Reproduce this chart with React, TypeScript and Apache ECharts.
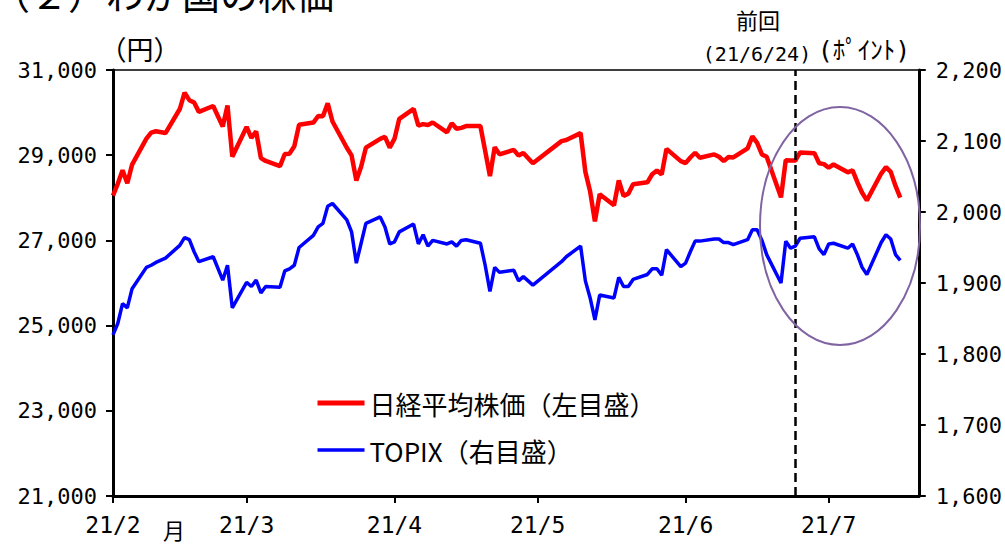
import React, { useEffect, useRef } from "react";
import * as echarts from "echarts";

const dates = [
  "2021-02-01","2021-02-02","2021-02-03","2021-02-04","2021-02-05","2021-02-08","2021-02-09","2021-02-10","2021-02-12",
  "2021-02-15","2021-02-16","2021-02-17","2021-02-18","2021-02-19","2021-02-22","2021-02-24","2021-02-25","2021-02-26",
  "2021-03-01","2021-03-02","2021-03-03","2021-03-04","2021-03-05","2021-03-08","2021-03-09","2021-03-10","2021-03-11","2021-03-12",
  "2021-03-15","2021-03-16","2021-03-17","2021-03-18","2021-03-19","2021-03-22","2021-03-23","2021-03-24","2021-03-25","2021-03-26",
  "2021-03-29","2021-03-30","2021-03-31","2021-04-01","2021-04-02","2021-04-05","2021-04-06","2021-04-07","2021-04-08","2021-04-09",
  "2021-04-12","2021-04-13","2021-04-14","2021-04-15","2021-04-16","2021-04-19","2021-04-20","2021-04-21","2021-04-22","2021-04-23",
  "2021-04-26","2021-04-27","2021-04-28","2021-04-30","2021-05-06","2021-05-07","2021-05-10","2021-05-11","2021-05-12","2021-05-13",
  "2021-05-14","2021-05-17","2021-05-18","2021-05-19","2021-05-20","2021-05-21","2021-05-24","2021-05-25","2021-05-26","2021-05-27",
  "2021-05-28","2021-05-31","2021-06-01","2021-06-02","2021-06-03","2021-06-04","2021-06-07","2021-06-08","2021-06-09","2021-06-10",
  "2021-06-11","2021-06-14","2021-06-15","2021-06-16","2021-06-17","2021-06-18","2021-06-21","2021-06-22","2021-06-23","2021-06-24",
  "2021-06-25","2021-06-28","2021-06-29","2021-06-30","2021-07-01","2021-07-02","2021-07-05","2021-07-06","2021-07-07","2021-07-08",
  "2021-07-09","2021-07-12","2021-07-13","2021-07-14","2021-07-15","2021-07-16"
];

const nikkei = [
  28050,28330,28646,28341,28779,29388,29530,29562,29520,
  30084,30467,30292,30236,30017,30156,29671,30168,28966,
  29663,29408,29559,28930,28864,28744,29028,29036,29212,29717,
  29766,29921,29914,30216,29792,29174,28995,28405,28729,29176,
  29384,29432,29178,29388,29854,30089,29696,29730,29708,29768,
  29538,29751,29620,29642,29683,29685,29100,28508,29188,29020,
  29126,28991,29053,28812,29331,29357,29518,28608,28147,27448,
  28084,27824,28406,28044,28098,28317,28364,28553,28642,28549,
  29149,28860,28814,28946,29058,28941,29019,28963,28860,28958,
  28948,29161,29441,29291,29018,28964,28010,28884,28874,28875,
  29066,29048,28812,28791,28707,28783,28598,28643,28366,28118,
  27940,28569,28718,28608,28279,28003
];

const topix = [
  1827,1843,1871,1865,1892,1922,1925,1929,1935,
  1953,1964,1961,1944,1930,1937,1904,1925,1865,
  1901,1895,1904,1886,1895,1894,1917,1920,1925,1950,
  1967,1979,1984,2008,2012,1989,1972,1928,1956,1984,
  1993,1979,1955,1958,1972,1983,1955,1968,1952,1960,
  1955,1958,1952,1960,1961,1956,1925,1888,1922,1915,
  1918,1903,1909,1897,1930,1937,1952,1903,1879,1848,
  1883,1879,1908,1895,1895,1905,1912,1920,1920,1911,
  1947,1923,1928,1944,1959,1959,1962,1962,1957,1957,
  1954,1961,1975,1975,1960,1940,1900,1959,1949,1952,
  1963,1965,1948,1940,1955,1956,1949,1955,1940,1922,
  1912,1957,1968,1962,1940,1932
];

const monthStarts = ["2021-02-01","2021-03-01","2021-04-01","2021-05-01","2021-06-01","2021-07-01"];
const monthLabels = ["21/2","21/3","21/4","21/5","21/6","21/7"];
const axisStart = "2021-02-01T00:00:00Z";
const axisEnd = "2021-07-19T21:00:00Z";
const prevDate = "2021-06-24";
const seriesNames = ["日経平均株価（左目盛）", "TOPIX（右目盛）"];

const ts = (s: string) => Date.parse(s.length === 10 ? s + "T00:00:00Z" : s);

const NUM_FONT = "'DejaVu Sans Mono', 'Noto Sans CJK JP', monospace";
const JP_FONT = "'Noto Sans CJK JP', sans-serif";

function fmt(v: number) {
  return String(v).replace(/\B(?=(\d{3})+(?!\d))/g, ",");
}

export default function App() {
  const ref = useRef<HTMLDivElement>(null);
  useEffect(() => {
    if (!ref.current) return;
    const chart = echarts.init(ref.current, undefined, { renderer: "svg" });
    const monthTs = monthStarts.map(ts);
    const option: any = {
      animation: false,
      backgroundColor: "#fff",
      grid: {
        left: 113, right: 86, top: 70, bottom: 49,
        show: true, borderColor: "#000", borderWidth: 1.5, backgroundColor: "transparent"
      },
      legend: {
        orient: "vertical",
        left: 315, top: 390, padding: 0,
        itemWidth: 47, itemHeight: 24, itemGap: 21,
        itemStyle: { opacity: 0 },
        textStyle: { fontSize: 26, fontFamily: JP_FONT, color: "#000" },
        data: [
          { name: seriesNames[0], lineStyle: { width: 5, color: "#ff0000" } },
          { name: seriesNames[1], lineStyle: { width: 3.5, color: "#0000ff" } }
        ]
      },
      xAxis: {
        type: "value",
        min: ts(axisStart),
        max: ts(axisEnd),
        splitLine: { show: false },
        axisLine: { lineStyle: { color: "#000", width: 3 } },
        axisTick: { show: true, inside: false, length: 7, lineStyle: { color: "#000", width: 2 }, customValues: monthTs },
        axisLabel: {
          customValues: monthTs,
          margin: 17,
          fontSize: 23,
          fontFamily: NUM_FONT,
          color: "#000",
          formatter: (v: number) => {
            const i = monthTs.indexOf(v);
            return i >= 0 ? monthLabels[i] : "";
          }
        }
      },
      yAxis: [
        {
          type: "value", min: 21000, max: 31000, interval: 2000, position: "left",
          splitLine: { show: false },
          axisLine: { show: true, lineStyle: { color: "#000", width: 3 } },
          axisTick: { show: true, length: 7, lineStyle: { color: "#000", width: 2 } },
          axisLabel: { margin: 16, fontSize: 22, fontFamily: NUM_FONT, color: "#000", formatter: (v: number) => fmt(v) }
        },
        {
          type: "value", min: 1600, max: 2200, interval: 100, position: "right",
          splitLine: { show: false },
          axisLine: { show: true, lineStyle: { color: "#000", width: 3 } },
          axisTick: { show: true, length: 7, lineStyle: { color: "#000", width: 2 } },
          axisLabel: { margin: 17, fontSize: 22, fontFamily: NUM_FONT, color: "#000", formatter: (v: number) => fmt(v) }
        }
      ],
      series: [
        {
          name: seriesNames[0],
          type: "line",
          yAxisIndex: 0,
          symbol: "none",
          data: dates.map((d, i) => [ts(d), nikkei[i]]),
          lineStyle: { color: "#ff0000", width: 4.5 },
          itemStyle: { color: "#ff0000" },
          markLine: {
            silent: true,
            symbol: ["none", "none"],
            label: { show: false },
            lineStyle: { color: "#000", type: [9, 5], width: 2.5 },
            data: [{ xAxis: ts(prevDate) }]
          }
        },
        {
          name: seriesNames[1],
          type: "line",
          yAxisIndex: 1,
          symbol: "none",
          data: dates.map((d, i) => [ts(d), topix[i]]),
          lineStyle: { color: "#0000ff", width: 3.5 },
          itemStyle: { color: "#0000ff" }
        }
      ],
      graphic: [
        { type: "text", x: -8, y: -8, style: { text: "（２）わが国の株価", fontSize: 38, fontFamily: JP_FONT, fill: "#000", verticalAlign: "middle", align: "left" } },
        { type: "text", x: 140, y: 48, style: { text: "（円）", fontSize: 27, fontFamily: JP_FONT, fill: "#000", verticalAlign: "middle", align: "center" } },
        { type: "text", x: 758, y: 19, style: { text: "前回", fontSize: 22, fontFamily: JP_FONT, fill: "#000", verticalAlign: "middle", align: "center" } },
        { type: "text", x: 757, y: 54, style: { text: "(21/6/24)", fontSize: 20, fontFamily: NUM_FONT, fill: "#000", verticalAlign: "middle", align: "center" } },
        { type: "text", x: 864, y: 50, style: { text: "(ﾎﾟｲﾝﾄ)", fontSize: 25, fontFamily: NUM_FONT, fill: "#000", verticalAlign: "middle", align: "center" } },
        { type: "text", x: 174, y: 529, style: { text: "月", fontSize: 22, fontFamily: JP_FONT, fill: "#000", verticalAlign: "middle", align: "center" } },
        { type: "ellipse", shape: { cx: 840, cy: 226, rx: 80, ry: 119 }, style: { fill: "none", stroke: "#8064a2", lineWidth: 2 }, z: 10 }
      ]
    };
    chart.setOption(option);
    return () => chart.dispose();
  }, []);
  return <div ref={ref} style={{ position: "fixed", left: 0, top: 0, width: 1005, height: 545 }} />;
}
